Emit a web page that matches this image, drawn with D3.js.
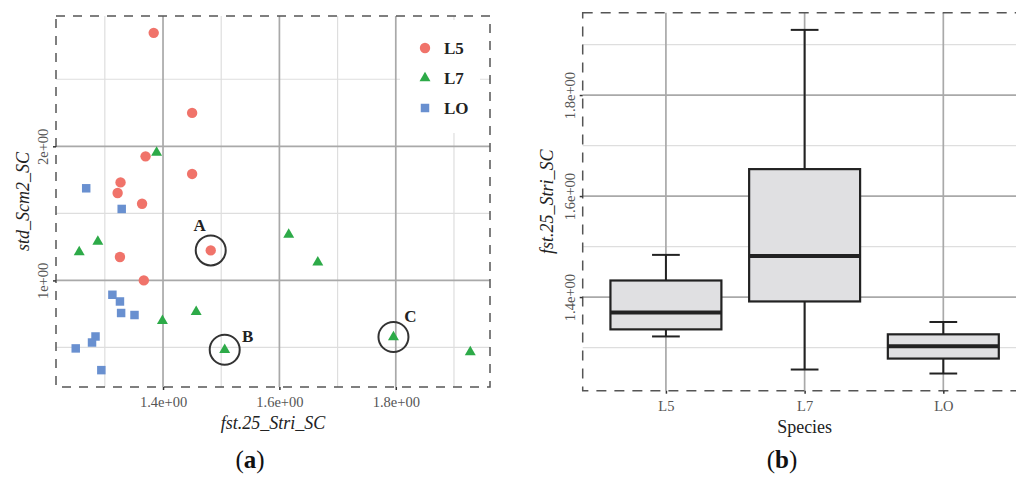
<!DOCTYPE html>
<html><head><meta charset="utf-8">
<script src="https://cdn.jsdelivr.net/npm/d3@7"></script>
<style>body{margin:0;background:#fff}svg{display:block}</style>
</head><body><svg id="c" width="1016" height="485"></svg>
<script>
// ---------------- DATA ----------------
const seriesNames = ["L5", "L7", "LO"];
// [fst.25_Stri_SC, std_Scm2_SC]
const l5Points = [[1.384,2.846],[1.450,2.249],[1.370,1.925],[1.450,1.794],[1.327,1.731],
                  [1.322,1.652],[1.364,1.572],[1.326,1.175],[1.367,1.000],[1.482,1.224]];
const l7Points = [[1.389,1.953],[1.256,1.212],[1.288,1.289],[1.399,0.699],[1.457,0.766],
                  [1.506,0.483],[1.616,1.341],[1.666,1.134],[1.796,0.578],[1.928,0.466]];
const loPoints = [[1.268,1.687],[1.329,1.533],[1.313,0.893],[1.326,0.843],[1.328,0.757],
                  [1.351,0.742],[1.284,0.582],[1.278,0.537],[1.250,0.493],[1.294,0.331]];
const annotationLabels = ["A", "B", "C"];
const annotationSeries = [0, 1, 1];
const annotationIndex = [9, 5, 8];
const scatterXTicks = [1.4, 1.6, 1.8];
const scatterYTicks = [1, 2];

const boxCategories = ["L5", "L7", "LO"];
const boxLowerWhisker = [1.322, 1.2565, 1.2486];
const boxQ1 = [1.336, 1.3913, 1.2782];
const boxMedian = [1.3696, 1.4815, 1.3025];
const boxQ3 = [1.4328, 1.6533, 1.3262];
const boxUpperWhisker = [1.4835, 1.929, 1.3506];
const boxYTicks = [1.4, 1.6, 1.8];

// ---------------- STYLE ----------------
const colors = ["#F0736A", "#2DAA48", "#6990D0"];
const SERIF = "'Liberation Serif', 'DejaVu Serif', serif";
const svg = d3.select("#c");

function fmtE(d) {
  const s = d.toExponential();
  const [m, e] = s.split("e");
  const sign = e[0] === "-" ? "-" : "+";
  const num = Math.abs(+e);
  return m + "e" + sign + (num < 10 ? "0" + num : "" + num);
}
function expand(ext, f) { const s = ext[1] - ext[0]; return [ext[0] - s * f, ext[1] + s * f]; }
function minorOf(ticks, domain) {
  const step = ticks[1] - ticks[0];
  const out = [];
  ticks.forEach((t, i) => { if (i === 0) out.push(t - step / 2); out.push(t + step / 2); });
  return out.filter(v => v > domain[0] && v < domain[1]);
}
const MAJOR = "#a9a9a9", MINOR = "#dedede", BORDER = "#555";

// ================= PANEL A =================
(function () {
  const L = 56, R = 490, T = 16, B = 387;
  const all = l5Points.concat(l7Points, loPoints);
  const x = d3.scaleLinear().domain(expand(d3.extent(all, d => d[0]), 0.05)).range([L, R]);
  const y = d3.scaleLinear().domain(expand(d3.extent(all, d => d[1]), 0.05)).range([B, T]);
  const g = svg.append("g");

  // minor grid
  minorOf(scatterXTicks, x.domain()).forEach(v => g.append("line")
    .attr("x1", x(v)).attr("x2", x(v)).attr("y1", T).attr("y2", B)
    .attr("stroke", MINOR).attr("stroke-width", 1.2));
  minorOf(scatterYTicks, y.domain()).forEach(v => g.append("line")
    .attr("y1", y(v)).attr("y2", y(v)).attr("x1", L).attr("x2", R)
    .attr("stroke", MINOR).attr("stroke-width", 1.2));
  // major grid
  scatterXTicks.forEach(v => g.append("line")
    .attr("x1", x(v)).attr("x2", x(v)).attr("y1", T).attr("y2", B)
    .attr("stroke", MAJOR).attr("stroke-width", 1.7));
  scatterYTicks.forEach(v => g.append("line")
    .attr("y1", y(v)).attr("y2", y(v)).attr("x1", L).attr("x2", R)
    .attr("stroke", MAJOR).attr("stroke-width", 1.7));

  // legend background
  g.append("rect").attr("x", 400).attr("y", 20).attr("width", 80).attr("height", 113).attr("fill", "#fff");

  // border
  g.append("rect").attr("x", L).attr("y", T).attr("width", R - L).attr("height", B - T)
    .attr("fill", "none").attr("stroke", BORDER).attr("stroke-width", 1.5).attr("stroke-dasharray", "9,8");

  // axes
  const ax = g.append("g").attr("transform", `translate(0,${B})`)
    .call(d3.axisBottom(x).tickValues(scatterXTicks).tickFormat(fmtE).tickSize(3).tickPadding(6));
  ax.select(".domain").remove();
  ax.selectAll(".tick line").attr("stroke", "#333").attr("stroke-width", 1.5);
  ax.selectAll(".tick text").attr("font-family", SERIF).attr("font-size", 14.5).attr("fill", "#555")
    .attr("y", 10).attr("dy", "0.71em");
  const ay = g.append("g").attr("transform", `translate(${L},0)`)
    .call(d3.axisLeft(y).tickValues(scatterYTicks).tickFormat(fmtE).tickSize(3));
  ay.select(".domain").remove();
  ay.selectAll(".tick line").attr("stroke", "#333").attr("stroke-width", 1.5);
  ay.selectAll(".tick text").attr("font-family", SERIF).attr("font-size", 14.5).attr("fill", "#555")
    .attr("transform", "rotate(-90)").attr("x", 0).attr("y", -8).attr("dy", 0).attr("text-anchor", "middle");

  // titles
  g.append("text").attr("x", (L + R) / 2).attr("y", 429).attr("text-anchor", "middle")
    .attr("font-family", SERIF).attr("font-style", "italic").attr("font-size", 18).attr("fill", "#222")
    .text("fst.25_Stri_SC");
  g.append("text").attr("transform", `translate(29,${(T + B) / 2}) rotate(-90)`).attr("text-anchor", "middle")
    .attr("font-family", SERIF).attr("font-style", "italic").attr("font-size", 18).attr("fill", "#222")
    .text("std_Scm2_SC");

  // points
  const shapes = [null, d3.symbolTriangle, d3.symbolSquare];
  const sizes = [0, 52, 72];
  [l5Points, l7Points, loPoints].forEach((pts, si) => {
    pts.forEach(p => {
      if (si === 0) {
        g.append("circle").attr("cx", x(p[0])).attr("cy", y(p[1])).attr("r", 5.2).attr("fill", colors[si]);
      } else {
        g.append("path").attr("d", d3.symbol().type(shapes[si]).size(sizes[si])())
          .attr("transform", `translate(${x(p[0])},${y(p[1])})`).attr("fill", colors[si]);
      }
    });
  });

  // annotations
  const offs = [[-11, -25], [23, -14], [17, -21]];
  const seriesPts = [l5Points, l7Points, loPoints];
  annotationLabels.forEach((lab, i) => {
    const p = seriesPts[annotationSeries[i]][annotationIndex[i]];
    const cx = x(p[0]), cy = y(p[1]);
    g.append("circle").attr("cx", cx).attr("cy", cy).attr("r", 15)
      .attr("fill", "none").attr("stroke", "#333").attr("stroke-width", 2);
    g.append("text").attr("x", cx + offs[i][0]).attr("y", cy + offs[i][1] + 6).attr("text-anchor", "middle")
      .attr("font-family", SERIF).attr("font-weight", "bold").attr("font-size", 17).attr("fill", "#222").text(lab);
  });

  // legend
  seriesNames.forEach((n, i) => {
    const ly = 48 + i * 30;
    if (i === 0) g.append("circle").attr("cx", 425).attr("cy", ly).attr("r", 5.2).attr("fill", colors[i]);
    else g.append("path").attr("d", d3.symbol().type(shapes[i]).size(sizes[i])())
      .attr("transform", `translate(425,${ly})`).attr("fill", colors[i]);
    g.append("text").attr("x", 444).attr("y", ly + 6).attr("font-family", SERIF).attr("font-weight", "bold")
      .attr("font-size", 17).attr("fill", "#222").text(n);
  });

  svg.append("text").attr("x", 250).attr("y", 468).attr("text-anchor", "middle")
    .attr("font-family", SERIF).attr("font-size", 25).attr("fill", "#111")
    .html("(<tspan font-weight='bold'>a</tspan>)");
})();

// ================= PANEL B =================
(function () {
  const L = 582.7, T = 12.7, B = 390.7;
  const step = 138.7;
  const R = L + step * 3.2;
  const x = d3.scalePoint().domain(boxCategories).range([L, R]).padding(0.6);
  const y = d3.scaleLinear()
    .domain(expand([d3.min(boxLowerWhisker), d3.max(boxUpperWhisker)], 0.05)).range([B, T]);
  const g = svg.append("g");
  const bw = x.step() * 0.8, cw = x.step() * 0.2;

  minorOf(boxYTicks, y.domain()).forEach(v => g.append("line")
    .attr("y1", y(v)).attr("y2", y(v)).attr("x1", L).attr("x2", R)
    .attr("stroke", MINOR).attr("stroke-width", 1.2));
  boxYTicks.forEach(v => g.append("line")
    .attr("y1", y(v)).attr("y2", y(v)).attr("x1", L).attr("x2", R)
    .attr("stroke", MAJOR).attr("stroke-width", 1.7));
  boxCategories.forEach(c => g.append("line")
    .attr("x1", x(c)).attr("x2", x(c)).attr("y1", T).attr("y2", B)
    .attr("stroke", MAJOR).attr("stroke-width", 1.7));

  g.append("rect").attr("x", L).attr("y", T).attr("width", R - L).attr("height", B - T)
    .attr("fill", "none").attr("stroke", BORDER).attr("stroke-width", 1.5).attr("stroke-dasharray", "10,8");

  const ax = g.append("g").attr("transform", `translate(0,${B})`)
    .call(d3.axisBottom(x).tickSize(3));
  ax.select(".domain").remove();
  ax.selectAll(".tick line").attr("stroke", "#333").attr("stroke-width", 1.5);
  ax.selectAll(".tick text").attr("font-family", SERIF).attr("font-size", 14.5).attr("fill", "#555")
    .attr("y", 10).attr("dy", "0.71em");
  const ay = g.append("g").attr("transform", `translate(${L},0)`)
    .call(d3.axisLeft(y).tickValues(boxYTicks).tickFormat(fmtE).tickSize(3));
  ay.select(".domain").remove();
  ay.selectAll(".tick line").attr("stroke", "#333").attr("stroke-width", 1.5);
  ay.selectAll(".tick text").attr("font-family", SERIF).attr("font-size", 14.5).attr("fill", "#555")
    .attr("transform", "rotate(-90)").attr("x", 0).attr("y", -8).attr("dy", 0).attr("text-anchor", "middle");

  g.append("text").attr("x", x("L7")).attr("y", 433).attr("text-anchor", "middle")
    .attr("font-family", SERIF).attr("font-size", 18).attr("fill", "#222").text("Species");
  g.append("text").attr("transform", `translate(553,${(T + B) / 2}) rotate(-90)`).attr("text-anchor", "middle")
    .attr("font-family", SERIF).attr("font-style", "italic").attr("font-size", 18).attr("fill", "#222")
    .text("fst.25_Stri_SC");

  boxCategories.forEach((c, i) => {
    const cx = x(c);
    const stroke = "#222";
    g.append("line").attr("x1", cx).attr("x2", cx).attr("y1", y(boxUpperWhisker[i])).attr("y2", y(boxQ3[i]))
      .attr("stroke", stroke).attr("stroke-width", 2);
    g.append("line").attr("x1", cx).attr("x2", cx).attr("y1", y(boxQ1[i])).attr("y2", y(boxLowerWhisker[i]))
      .attr("stroke", stroke).attr("stroke-width", 2);
    [boxUpperWhisker[i], boxLowerWhisker[i]].forEach(v => g.append("line")
      .attr("x1", cx - cw / 2).attr("x2", cx + cw / 2).attr("y1", y(v)).attr("y2", y(v))
      .attr("stroke", stroke).attr("stroke-width", 2));
    g.append("rect").attr("x", cx - bw / 2).attr("y", y(boxQ3[i])).attr("width", bw)
      .attr("height", y(boxQ1[i]) - y(boxQ3[i])).attr("fill", "#e0e0e2")
      .attr("stroke", stroke).attr("stroke-width", 2.2);
    g.append("line").attr("x1", cx - bw / 2).attr("x2", cx + bw / 2)
      .attr("y1", y(boxMedian[i])).attr("y2", y(boxMedian[i]))
      .attr("stroke", stroke).attr("stroke-width", 4);
  });

  svg.append("text").attr("x", 782).attr("y", 468).attr("text-anchor", "middle")
    .attr("font-family", SERIF).attr("font-size", 25).attr("fill", "#111")
    .html("(<tspan font-weight='bold'>b</tspan>)");
})();
</script></body></html>
